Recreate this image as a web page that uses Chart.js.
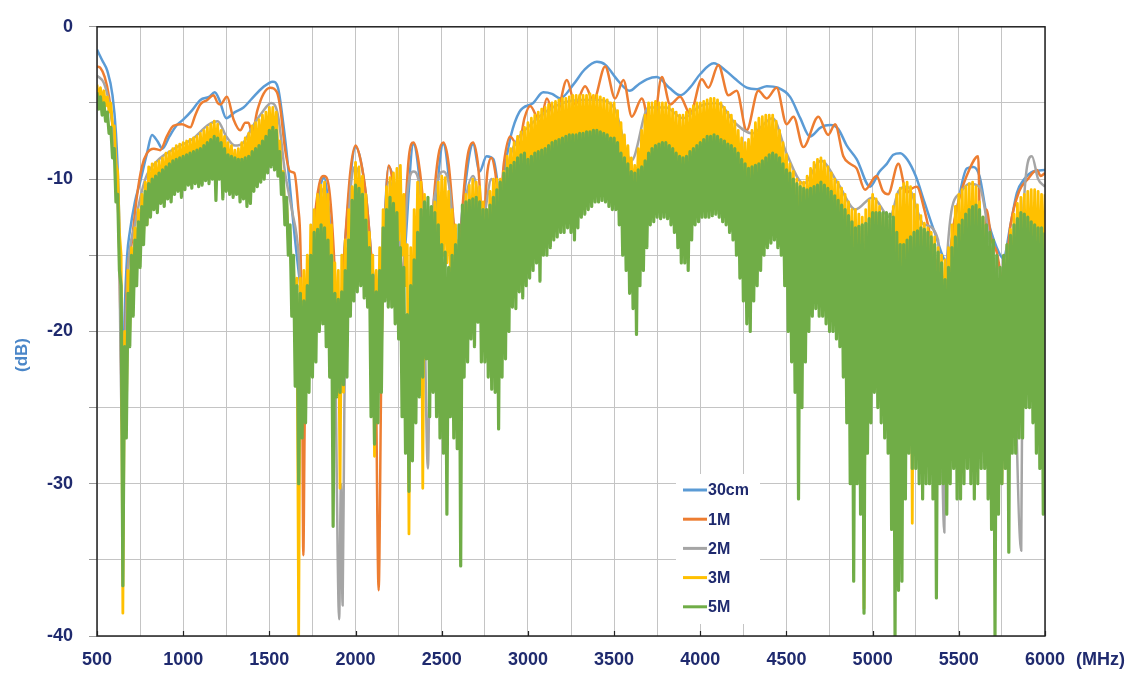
<!DOCTYPE html>
<html>
<head>
<meta charset="utf-8">
<title>Cable loss comparison</title>
<script src="https://cdn.jsdelivr.net/npm/chart.js@4.4.1/dist/chart.umd.min.js"></script>
<style>
  html, body { margin: 0; padding: 0; background: #fff; }
  #wrap { width: 1130px; height: 673px; }
</style>
</head>
<body>
<div id="wrap"><canvas id="chart" width="1130" height="673"></canvas></div>
<script>
// smooth traces: [MHz, dB]
const curve30cm = [
  [500,-1.5],[530,-2.2],[560,-2.9],[590,-4.5],[610,-7],[625,-11],[640,-18],[650,-24],[660,-19],[675,-15],
  [690,-13.5],[720,-11.5],[750,-10.2],[790,-8.3],[819,-7.1],[850,-7.5],[880,-8],[920,-7.2],[960,-6.5],[1000,-6.1],
  [1050,-5.5],[1100,-4.8],[1150,-4.6],[1183,-4.3],[1210,-4.8],[1250,-6],[1300,-5.6],[1350,-5.3],[1400,-4.7],[1460,-4],
  [1520,-3.6],[1550,-4],[1580,-6.3],[1606,-8.9],[1640,-13],[1680,-17],[1720,-20],[1760,-14],[1817,-9.9],[1860,-14],
  [1900,-20],[1940,-14],[2000,-7.9],[2060,-11],[2100,-16],[2140,-18],[2192,-9.2],[2240,-11.5],[2270,-16],[2336,-7.7],
  [2390,-12],[2423,-16],[2509,-7.7],[2560,-12],[2590,-15.5],[2620,-12],[2682,-7.7],[2720,-9.5],[2760,-8.5],[2800,-8.7],
  [2840,-11],[2870,-9],[2900,-7.2],[2950,-5.6],[3031,-5],[3089,-4.3],[3140,-4.4],[3187,-4.7],[3263,-3.8],[3330,-2.8],
  [3400,-2.3],[3450,-2.5],[3520,-3.5],[3590,-4.2],[3640,-3.8],[3690,-3.45],[3748,-3.3],[3820,-4],[3885,-4.5],[3940,-4],
  [4000,-3.1],[4078,-2.4],[4150,-2.9],[4200,-3.4],[4270,-4],[4330,-4.1],[4386,-3.9],[4450,-4],[4521,-4.6],[4580,-6],
  [4636,-7.2],[4700,-6.6],[4753,-6.45],[4800,-6.7],[4850,-7.8],[4908,-8.7],[4985,-10.5],[5040,-9.5],[5082,-9],[5120,-8.4],
  [5160,-8.3],[5200,-8.7],[5250,-9.8],[5300,-11.5],[5360,-13.5],[5430,-15.4],[5480,-12.5],[5546,-9.3],[5585,-9.2],[5620,-9.8],
  [5662,-12.4],[5720,-14.5],[5758,-15.2],[5800,-13],[5837,-10.9],[5880,-10],[5931,-9.5],[6000,-9.4]
];

const curve1M = [
  [500,-2.6],[520,-2.7],[545,-3.3],[570,-4.6],[595,-7],[615,-10],[630,-15],[642,-24],[650,-28],[660,-22],
  [675,-16.5],[700,-14.3],[732,-11.1],[760,-9.2],[790,-8.3],[830,-8],[867,-8.1],[905,-7.2],[943,-6.5],[993,-6.4],
  [1041,-6.6],[1070,-5.8],[1099,-5.1],[1140,-4.8],[1176,-4.5],[1200,-5],[1216,-5.1],[1254,-4.6],[1293,-6.1],[1331,-6.8],
  [1360,-6.3],[1379,-6.3],[1400,-7],[1430,-5.5],[1466,-4.4],[1505,-4],[1544,-4.3],[1563,-5.3],[1592,-8.1],[1621,-9.5],
  [1645,-9.6],[1667,-11.8],[1680,-14.3],[1690,-22],[1697,-34.7],[1705,-26],[1720,-20],[1740,-17],[1760,-13],[1790,-10.3],
  [1817,-9.8],[1845,-10.5],[1870,-14],[1890,-19],[1903,-24],[1915,-19],[1940,-14],[1970,-9.5],[2000,-7.8],[2030,-8.8],
  [2060,-11],[2090,-15],[2115,-20],[2134,-37],[2150,-22],[2165,-15],[2192,-9.1],[2220,-10.5],[2245,-13],[2269,-18],
  [2290,-12],[2310,-8.5],[2336,-7.6],[2365,-8.8],[2395,-12],[2423,-18],[2450,-12],[2480,-8.5],[2509,-7.6],[2540,-9],
  [2570,-13],[2596,-17],[2620,-12],[2650,-8.5],[2682,-7.6],[2710,-9],[2740,-13],[2765,-9.5],[2788,-8.6],[2810,-9.5],
  [2836,-12],[2860,-9],[2897,-7.2],[2945,-7.9],[2980,-6],[3013,-5.2],[3071,-6.25],[3110,-4.7],[3158,-6.1],[3226,-3.5],
  [3274,-5.1],[3332,-3.9],[3380,-4.85],[3448,-2.6],[3506,-4.7],[3554,-3.5],[3603,-5.9],[3661,-4.7],[3719,-7.2],[3777,-3.3],
  [3825,-5.1],[3883,-4.6],[3941,-5.7],[4009,-3.45],[4047,-4],[4105,-2.5],[4163,-4.5],[4211,-4.2],[4269,-6.8],[4337,-4.2],
  [4385,-4.7],[4443,-4],[4501,-6.4],[4541,-5.9],[4598,-7.9],[4685,-5.9],[4742,-7.1],[4782,-6.4],[4830,-8.5],[4870,-9],
  [4907,-9.3],[4956,-10.7],[5023,-9.8],[5060,-10.8],[5090,-11],[5149,-9],[5198,-10.9],[5230,-10.6],[5256,-10.5],[5300,-12],
  [5340,-14],[5380,-16],[5430,-17],[5470,-13],[5507,-11.1],[5560,-9.4],[5612,-8.5],[5640,-27],[5660,-12],[5690,-14],
  [5720,-14.8],[5760,-17],[5800,-13],[5850,-10.8],[5900,-10],[5953,-9.4],[5975,-9.8],[6000,-9.6]
];

const curve2M = [
  [500,-3.2],[540,-3.7],[570,-5],[600,-7.5],[625,-12],[645,-26],[660,-22],[680,-16],[720,-13],[780,-10],
  [850,-8.8],[950,-8],[1050,-7.4],[1150,-6.4],[1200,-6.2],[1250,-7.2],[1300,-7.8],[1350,-7.6],[1400,-6.6],[1460,-5.6],
  [1510,-5],[1550,-5.8],[1590,-9.5],[1630,-12],[1670,-15],[1700,-22],[1720,-18],[1760,-14],[1817,-10.6],[1850,-13],
  [1880,-20],[1905,-38.9],[1915,-30],[1925,-38],[1935,-25],[1960,-13],[2000,-9.2],[2040,-11],[2090,-16],[2130,-22],
  [2160,-15],[2192,-10.2],[2240,-12],[2270,-17],[2300,-11],[2336,-9.5],[2390,-13],[2420,-29],[2435,-16],[2470,-10.5],
  [2509,-9.5],[2550,-11],[2590,-17],[2630,-12],[2682,-9.8],[2740,-12.5],[2788,-10],[2840,-12],[2897,-8.5],[2950,-7.2],
  [3000,-6.6],[3100,-5.6],[3200,-5],[3300,-4.8],[3400,-4.8],[3500,-5.3],[3600,-8.8],[3700,-5.3],[3800,-5.3],[3900,-6],
  [4000,-5.2],[4100,-5],[4200,-6.3],[4300,-7],[4420,-6],[4500,-8.3],[4600,-10.3],[4700,-8.8],[4800,-10.3],[4900,-12],
  [5000,-11.2],[5100,-12.5],[5150,-10.8],[5200,-10.5],[5300,-13],[5380,-14],[5416,-33.2],[5430,-15.5],[5500,-11],[5560,-10.3],
  [5620,-10.5],[5700,-15.5],[5760,-17.5],[5800,-14.5],[5862,-34.4],[5875,-12],[5924,-8.5],[5960,-10],[6000,-10.5]
];

// dense traces sampled every 10 MHz from 500 MHz
const gridStartMHz = 500;
const gridStepMHz = 10;

const dense3M = [
  -3.8,-4.8,-4.0,-5.0,-4.2,-5.2,-4.6,-5.6,-5.0,-6.5,
  -6.5,-9,-9.5,-13.5,-15,-38.5,-20,-26,-16,-20,
  -14.5,-17.5,-13.2,-16,-12,-15,-11,-13.8,-10.2,-13,
  -9.2,-11.5,-9.0,-11.2,-8.9,-11,-8.8,-10.8,-8.6,-10.6,
  -8.3,-10.4,-8.2,-10.2,-8.0,-10,-7.8,-10,-7.7,-9.8,
  -7.6,-9.6,-7.5,-9.5,-7.4,-9.4,-7.3,-9.3,-7.2,-9.2,
  -7.0,-9,-6.8,-8.8,-6.6,-8.6,-6.4,-8.5,-6.2,-8.4,
  -6.4,-8.8,-6.8,-9,-7.2,-9.3,-7.6,-9.6,-7.8,-9.8,
  -8.1,-10,-8.0,-10,-7.6,-10,-7.3,-9.6,-7.0,-9.4,
  -6.5,-9,-6.3,-8.8,-6.1,-8.5,-5.8,-8.2,-5.6,-7.8,
  -5.3,-7.6,-5.3,-7.8,-5.6,-8.2,-7.5,-10,-9.5,-12.5,
  -11.5,-14,-13.5,-16.5,-15.5,-19,-16.5,-40,-16.5,-21,
  -16,-21,-15,-20.5,-13,-19,-12,-17,-11,-16,
  -10.4,-15,-10.2,-15,-11,-16,-13,-18,-15.5,-22,
  -16,-30.3,-15,-24,-14,-21,-12,-17,-10.5,-15,
  -8.9,-14,-9.2,-14,-9.8,-15,-11,-16,-13.5,-20,
  -15,-28.2,-16,-22,-14.5,-20,-12,-17,-10.5,-15,
  -9.9,-14,-9.6,-14,-9.3,-14,-9.1,-15,-11,-17,
  -14.3,-33.3,-14.5,-22,-12,-18,-10.2,-16,-10.2,-30.3,
  -11,-18,-12,-19,-13,-20,-11.5,-17,-10.2,-16,
  -9.8,-15,-9.9,-15.5,-10.8,-16,-12,-17,-13,-20,
  -14,-22,-12.5,-18,-11,-16,-10.4,-15.5,-10,-15,
  -10.2,-15,-10.5,-15,-11.5,-16,-12,-16,-10.8,-15,
  -10,-14.5,-10,-14.5,-10,-14.5,-9.5,-13.5,-8.5,-12.5,
  -8,-12,-7.6,-11.8,-7.2,-11.5,-6.9,-11,-6.6,-10.8,
  -6.3,-10.5,-6.0,-10.3,-5.8,-10,-5.6,-9.8,-5.4,-9.6,
  -5.3,-9.5,-5.1,-9.4,-5.0,-9.3,-4.9,-9.2,-4.8,-9.1,
  -4.7,-9,-4.7,-8.9,-4.6,-8.8,-4.5,-8.7,-4.5,-8.6,
  -4.5,-8.5,-4.5,-8.5,-4.5,-8.5,-4.4,-8.5,-4.5,-8.5,
  -4.5,-8.6,-4.6,-8.7,-4.7,-8.8,-4.8,-8.9,-5.0,-9,
  -5.0,-9.2,-5.5,-9.6,-6.3,-10,-7.1,-10.5,-7.8,-11,
  -8.6,-11.5,-9.1,-12,-8.0,-11.2,-6.8,-10.5,-5.8,-10,
  -5.0,-9.5,-5.0,-9.4,-4.9,-9.3,-5.0,-9.2,-5.0,-9.1,
  -5.0,-9,-5.2,-9.3,-5.4,-9.6,-5.6,-9.8,-5.8,-10,
  -5.8,-10,-5.6,-9.8,-5.4,-9.5,-5.2,-9.3,-5.0,-9,
  -5.0,-9,-4.9,-8.8,-4.8,-8.6,-4.7,-8.5,-4.7,-8.5,
  -4.8,-8.7,-5.0,-9,-5.3,-9.2,-5.6,-9.4,-5.8,-9.5,
  -6.2,-10,-6.8,-10.5,-7.3,-11,-7.6,-11,-7.4,-11,
  -6.8,-10.8,-6.3,-10.5,-6.0,-10.5,-5.9,-10.2,-5.8,-10,
  -5.8,-10,-5.8,-10,-6.2,-10.5,-6.8,-11,-7.6,-12,
  -8.4,-13,-9,-14,-9.5,-15,-10,-16,-10.2,-16,
  -10.2,-15,-9.8,-14.5,-9.3,-14,-8.9,-13.5,-8.7,-13,
  -8.6,-13,-8.8,-13.5,-9.2,-14,-9.6,-14.5,-10,-15,
  -10.2,-15,-10.6,-16,-11,-17,-11.5,-17.5,-12,-18,
  -12,-18,-12.3,-20,-12.5,-38.2,-12,-25.6,-11.4,-17,
  -11,-17,-11.3,-17.5,-11.8,-18,-12.3,-18.5,-12.7,-19,
  -12.7,-19,-11.8,-18.5,-11,-18,-10.6,-18,-10.3,-18,
  -10.2,-18,-10.5,-32.6,-11,-19,-11.7,-19.5,-12.4,-20,
  -12.9,-20,-13.2,-21,-13.5,-22,-13.8,-31,-14.5,-22,
  -15,-22,-15.3,-22,-14.5,-21,-13,-20,-11.8,-19,
  -11,-18,-10.7,-18,-10.5,-17.5,-10.3,-17,-10.2,-17,
  -10.5,-17.5,-11.5,-19,-12.5,-20,-13.8,-22,-15,-24,
  -16,-25,-17,-27,-17.9,-30,-16,-25,-14.3,-22,
  -13.3,-20,-12.3,-19,-11.6,-18,-11.2,-18,-11,-17.5,
  -10.8,-17,-10.7,-17,-10.7,-17,-10.8,-17,-11,-17,
  -11
];

const dense5M = [
  -4.3,-5.4,-4.6,-5.8,-5.0,-6.2,-5.6,-7.0,-6.6,-8.6,
  -8.0,-11.5,-11.0,-16,-17,-36.7,-21,-27,-17.5,-21,
  -15,-19,-14,-17,-12.8,-15.8,-11.8,-14.3,-10.8,-13,
  -10.3,-12.5,-10,-12,-9.8,-12.2,-9.6,-11.6,-9.4,-11.8,
  -9.2,-11.3,-9,-11.5,-8.8,-11,-8.7,-10.8,-8.6,-11.2,
  -8.5,-10.7,-8.4,-10.4,-8.3,-10.6,-8.2,-10.3,-8.1,-10.5,
  -8.0,-10.4,-7.8,-10.1,-7.6,-10.3,-7.4,-10,-7.2,-11.4,
  -7.3,-10,-7.6,-11.3,-8.0,-10.8,-8.4,-11,-8.5,-11.2,
  -8.6,-11,-8.7,-11.5,-8.7,-11.3,-8.6,-11.8,-8.5,-11.6,
  -8.2,-10.8,-8.0,-10.5,-7.8,-10.2,-7.5,-10,-7.2,-9.6,
  -6.8,-9.2,-6.6,-9.4,-6.8,-9.8,-8.2,-11,-9.6,-13,
  -11.2,-15,-13,-19,-15,-23.6,-17,-30,-17.5,-27,
  -18,-26,-17,-24,-15,-23,-13.5,-22,-13.3,-20,
  -13,-19.5,-13.2,-21,-14,-23,-15,-32.8,-17.5,-24.3,
  -17.9,-24,-17.4,-23.5,-16,-23,-14,-19,-11.4,-18,
  -10.4,-17.4,-10.6,-17,-11,-17.8,-12.7,-18.4,-14.5,-25.6,
  -16.3,-27.4,-17.4,-26,-16,-24,-13.2,-18,-12,-18.4,
  -11.2,-18.4,-11.6,-19.5,-12.2,-20.5,-14.5,-25.6,-15.8,-28,
  -18.9,-30.5,-17,-28.5,-15.3,-26,-13.5,-24.3,-12,-23,
  -11.5,-21.8,-11.2,-25.6,-11.8,-24,-12.2,-25.6,-13,-27,
  -14.3,-28,-14.8,-32,-15.8,-25.6,-15,-27,-14.3,-27.7,
  -13,-35.4,-11.7,-23,-11.5,-22,-11.4,-20.5,-11.3,-21,
  -11.2,-19.4,-11.5,-22,-12,-22,-12,-23,-11.7,-23.8,
  -11.2,-24,-10.7,-26.4,-10.2,-23,-9.6,-21.8,-9.3,-20,
  -9.1,-18.4,-8.9,-18.5,-8.6,-17.4,-8.4,-17.8,-8.3,-17,
  -8.7,-16.5,-8.5,-16,-8.3,-15.5,-8.2,-16.7,-8.1,-15,
  -8.0,-15,-7.8,-14.5,-7.6,-14,-7.5,-13.8,-7.4,-13.5,
  -7.3,-13.5,-7.2,-13.2,-7.1,-13.5,-7.1,-14,-7.1,-13.2,
  -7.0,-12.5,-7.0,-12.3,-6.9,-12,-6.9,-11.8,-6.8,-11.5,
  -6.8,-11.5,-6.9,-11.4,-7.0,-11.5,-7.1,-11.8,-7.3,-12,
  -7.3,-12,-7.6,-13,-8.3,-15,-8.6,-16,-9,-17.5,
  -9.5,-18.5,-9.6,-20.2,-9.4,-17,-9.2,-16,-8.8,-14.5,
  -8.3,-13,-8.0,-12.8,-7.8,-12.5,-7.7,-12.6,-7.6,-12.5,
  -7.6,-12.6,-7.8,-13,-8.0,-13.5,-8.3,-14.5,-8.5,-15.5,
  -8.6,-15.5,-8.5,-16,-8.2,-14,-8.0,-13,-7.8,-12.8,
  -7.6,-12.5,-7.4,-12.5,-7.2,-12.5,-7.2,-12.4,-7.1,-12.3,
  -7.2,-12.5,-7.4,-12.8,-7.5,-13,-7.7,-13.5,-7.8,-14,
  -8,-15,-8.3,-16.5,-8.7,-18,-9,-19.5,-9.3,-20,
  -9.2,-18,-9.1,-17,-9.0,-16,-8.8,-15,-8.6,-14.5,
  -8.4,-14.2,-8.3,-14,-8.4,-14.5,-8.6,-15,-9.0,-17,
  -9.4,-20,-9.6,-22,-10,-24,-10.3,-31,-10.5,-25,
  -10.6,-22,-10.7,-20,-10.6,-19,-10.5,-18.5,-10.4,-19,
  -10.2,-19,-10.4,-19.5,-10.6,-20,-10.8,-20,-11.1,-20.5,
  -11.4,-21,-11.7,-23,-12,-26,-12.4,-30,-12.8,-36.4,
  -13.2,-30,-13.1,-32,-13,-38.5,-12.9,-28,-12.6,-26,
  -12.2,-24,-12.2,-25,-12.2,-26,-12.2,-27,-12.2,-28,
  -12.3,-33,-12.5,-40,-13.5,-37,-14.3,-36.4,-14.3,-31,
  -14,-28,-13.8,-29,-13.5,-29,-13.4,-30,-13.2,-31,
  -13.3,-30,-13.5,-30,-13.8,-31,-14.3,-37.5,-14.8,-30,
  -15.5,-30,-16.6,-32,-15.8,-30,-14.5,-29,-13.8,-31,
  -13,-31,-12.7,-30,-12.3,-29,-12,-30,-11.8,-31,
  -11.7,-30,-12,-29,-12.5,-29,-13,-31,-13.5,-33,
  -14,-40,-15,-32,-15.8,-30,-15,-29,-14.3,-34.5,
  -13.7,-28,-13,-28,-12.6,-27,-12.2,-27,-12.3,-25,
  -12.5,-25,-12.8,-26,-13,-28,-13.2,-29,-13.2,-32,
  -13.5
];

const seriesNames = ["30cm", "1M", "2M", "3M", "5M"];
const seriesColors = ["#5b9bd5", "#ed7d31", "#a5a5a5", "#ffc000", "#70ad47"];

const xTickValues = [500, 1000, 1500, 2000, 2500, 3000, 3500, 4000, 4500, 5000, 5500, 6000];
const yTickValues = [0, -10, -20, -30, -40];

const labelColor = "#1f2a6e";
const fontFamily = "'Liberation Sans', Arial, sans-serif";

const fromPairs = (pairs) => pairs.map(([x, y]) => ({ x, y }));
const fromGrid = (vals) => vals.map((y, i) => ({ x: gridStartMHz + i * gridStepMHz, y }));

const seriesData = [
  fromPairs(curve30cm),
  fromPairs(curve1M),
  fromPairs(curve2M),
  fromGrid(dense3M),
  fromGrid(dense5M),
];
const widths = [2.5, 2.5, 2.5, 2.8, 3.2];

// frame, inner ticks, legend and unit labels
const decorations = {
  id: "decorations",
  beforeDatasetsDraw(chart) {
    const { ctx } = chart;
    ctx.save();
    ctx.fillStyle = "#fff";
    ctx.fillRect(676, 474, 84, 150);
    ctx.restore();
  },
  afterDatasetsDraw(chart) {
    const { ctx, chartArea: a, scales } = chart;
    ctx.save();
    ctx.strokeStyle = "#222";
    ctx.lineWidth = 1.5;
    ctx.strokeRect(a.left, a.top, a.right - a.left, a.bottom - a.top);

    ctx.lineWidth = 1.2;
    xTickValues.forEach((v) => {
      const px = Math.round(scales.x.getPixelForValue(v)) + 0.5;
      ctx.beginPath();
      ctx.moveTo(px, a.bottom);
      ctx.lineTo(px, a.bottom - 5);
      ctx.stroke();
    });

    // legend
    ctx.font = "bold 16px " + fontFamily;
    ctx.textBaseline = "middle";
    ctx.textAlign = "left";
    chart.data.datasets.forEach((ds, i) => {
      const y = 490 + i * 29.2;
      ctx.strokeStyle = ds.borderColor;
      ctx.lineWidth = 3;
      ctx.beginPath();
      ctx.moveTo(683, y);
      ctx.lineTo(707, y);
      ctx.stroke();
      ctx.fillStyle = labelColor;
      ctx.fillText(ds.label, 708, y + 1);
    });

    ctx.font = "bold 18px " + fontFamily;
    ctx.fillStyle = labelColor;
    ctx.fillText("(MHz)", 1076, 660);

    ctx.translate(22, 355);
    ctx.rotate(-Math.PI / 2);
    ctx.textAlign = "center";
    ctx.font = "bold 17px " + fontFamily;
    ctx.fillStyle = "#4a86c8";
    ctx.fillText("(dB)", 0, 0);
    ctx.restore();
  },
};

new Chart(document.getElementById("chart"), {
  type: "line",
  data: {
    datasets: seriesNames.map((name, i) => ({
      label: name,
      data: seriesData[i],
      borderColor: seriesColors[i],
      backgroundColor: seriesColors[i],
      borderWidth: widths[i],
      borderJoinStyle: "round",
      pointRadius: 0,
      fill: false,
      tension: 0,
      cubicInterpolationMode: i < 3 ? "monotone" : "default",
      order: seriesNames.length - i,
    })),
  },
  options: {
    responsive: false,
    animation: false,
    layout: { padding: { top: 19, right: 85, left: 0, bottom: 0 } },
    scales: {
      x: {
        type: "linear",
        min: 500,
        max: 6000,
        afterFit(s) { s.height = 37; },
        ticks: {
          stepSize: 250,
          autoSkip: false,
          maxRotation: 0,
          padding: 13,
          color: labelColor,
          font: { family: fontFamily, size: 18, weight: "bold" },
          callback: (v) => (xTickValues.includes(v) ? String(v) : ""),
        },
        grid: { color: "#c4c4c4", lineWidth: 1, drawTicks: false },
        border: { display: false },
      },
      y: {
        min: -40,
        max: 0,
        afterFit(s) { s.width = 97; },
        ticks: {
          stepSize: 5,
          autoSkip: false,
          padding: 16,
          color: labelColor,
          font: { family: fontFamily, size: 18, weight: "bold" },
          callback: (v) => (yTickValues.includes(v) ? String(v) : ""),
        },
        grid: { color: "#c4c4c4", lineWidth: 1, tickLength: 8, tickColor: "#9a9a9a" },
        border: { display: false },
      },
    },
    plugins: {
      legend: { display: false },
      tooltip: { enabled: false },
    },
  },
  plugins: [decorations],
});
</script>
</body>
</html>
